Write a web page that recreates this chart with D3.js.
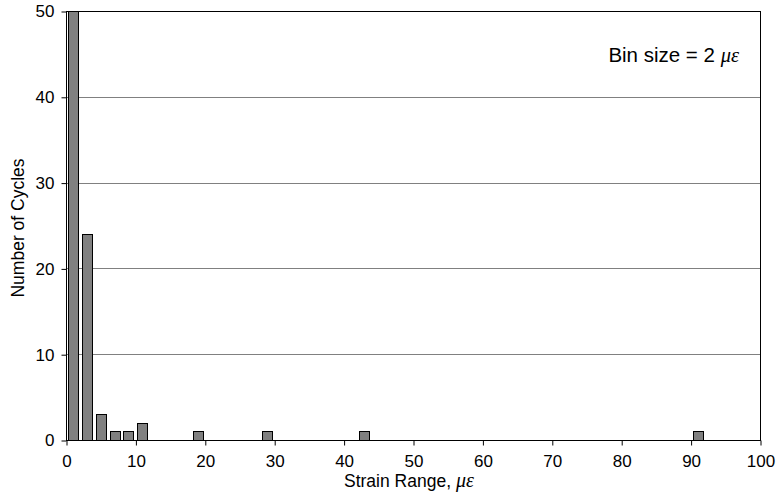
<!DOCTYPE html>
<html><head><meta charset="utf-8">
<script src="https://cdn.jsdelivr.net/npm/d3@7"></script>
<style>body{margin:0;background:#fff;} text{font-family:"Liberation Sans",Arial,sans-serif;}</style>
</head><body>
<svg id="chart" width="776" height="494"></svg>
<script>
const binCenters = [1, 3, 5, 7, 9, 11, 19, 29, 43, 91];
const cycleCounts = [50, 24, 3, 1, 1, 2, 1, 1, 1, 1];
const xTicks = [0,10,20,30,40,50,60,70,80,90,100];
const yTicks = [0,10,20,30,40,50];

const svg = d3.select("#chart");
const L = 66, R = 760, T = 11, B = 440;
const x = d3.scaleLinear().domain([0,100]).range([L,R]);
const y = d3.scaleLinear().domain([0,50]).range([B,T]);
const barW = 1.45;
const FS = 17;

// grid
svg.append("g").selectAll("line").data(yTicks.filter(d=>d>0&&d<50)).join("line")
  .attr("x1",L).attr("x2",R).attr("y1",d=>Math.round(y(d))+0.5).attr("y2",d=>Math.round(y(d))+0.5)
  .attr("stroke","#808080").attr("stroke-width",1);

// bars
svg.append("g").selectAll("rect").data(binCenters.map((c,i)=>({c,v:cycleCounts[i]}))).join("rect")
  .attr("x",d=>Math.round(x(d.c-barW/2))+0.5)
  .attr("width",d=>Math.round(x(d.c+barW/2))-Math.round(x(d.c-barW/2)))
  .attr("y",d=>Math.round(y(Math.min(d.v,50)))+0.5)
  .attr("height",d=>Math.round(y(0))-Math.round(y(Math.min(d.v,50))))
  .attr("fill","#808080").attr("stroke","#000").attr("stroke-width",1);

// border
svg.append("rect").attr("x",L+0.5).attr("y",T+0.5).attr("width",R-L).attr("height",B-T)
  .attr("fill","none").attr("stroke","#000").attr("stroke-width",1);

// axes
const xAxis = d3.axisBottom(x).tickValues(xTicks).tickSize(5).tickPadding(9).tickSizeOuter(0);
const gx = svg.append("g").attr("transform",`translate(0.5,${B+0.5})`).call(xAxis);
gx.select(".domain").remove();
gx.selectAll("text").attr("font-size",FS).attr("fill","#000").attr("font-family","Liberation Sans, Arial, sans-serif");
gx.selectAll("line").attr("stroke","#000");

const yAxis = d3.axisLeft(y).tickValues(yTicks).tickSize(5).tickPadding(7).tickSizeOuter(0);
const gy = svg.append("g").attr("transform",`translate(${L+0.5},0.5)`).call(yAxis);
gy.select(".domain").remove();
gy.selectAll("text").attr("font-size",FS).attr("fill","#000").attr("font-family","Liberation Sans, Arial, sans-serif");
gy.selectAll("line").attr("stroke","#000");

// titles
const xt = svg.append("text").attr("x",344).attr("y",487).attr("text-anchor","start").attr("font-size",17.5);
xt.append("tspan").text("Strain Range, ");
xt.append("tspan").attr("font-style","italic").attr("font-family","Liberation Serif, Times New Roman, serif").attr("font-size",20).text("με");

svg.append("text").attr("transform","translate(24,228) rotate(-90)").attr("text-anchor","middle")
  .attr("font-size",17.5).text("Number of Cycles");

const ann = svg.append("text").attr("x",739).attr("y",62).attr("text-anchor","end").attr("font-size",20.5);
ann.append("tspan").text("Bin size = 2 ");
ann.append("tspan").attr("font-style","italic").attr("font-family","Liberation Serif, Times New Roman, serif").text("με");
</script>
</body></html>
